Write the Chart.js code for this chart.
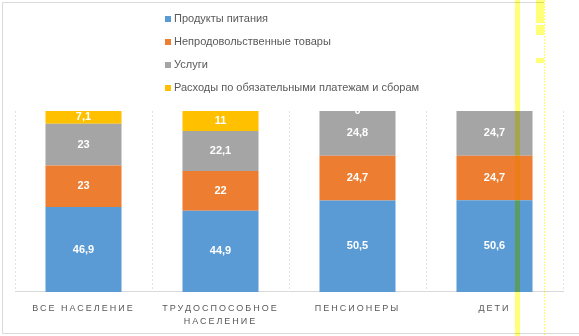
<!DOCTYPE html>
<html>
<head>
<meta charset="utf-8">
<script src="https://cdn.jsdelivr.net/npm/chart.js@4/dist/chart.umd.min.js"></script>
<style>
  html, body { margin: 0; padding: 0; background: #fff; }
  canvas { display: block; }
</style>
</head>
<body>
<canvas id="chart" width="579" height="336"></canvas>
<script>
// ----------------------
// DATA
// ----------------------
const categories = ["ВСЕ НАСЕЛЕНИЕ", ["ТРУДОСПОСОБНОЕ", "НАСЕЛЕНИЕ"], "ПЕНСИОНЕРЫ", "ДЕТИ"];
const seriesNames = [
    "Продукты питания",
    "Непродовольственные товары",
    "Услуги",
    "Расходы по обязательными платежам и сборам"
];
const food = [46.9, 44.9, 50.5, 50.6];
const nonFood = [23, 22, 24.7, 24.7];
const services = [23, 22.1, 24.8, 24.7];
const payments = [7.1, 11, 0, null];
const seriesColors = ["#5B9BD5", "#ED7D31", "#A5A5A5", "#FFC000"];

const FONT = "'Liberation Sans', 'DejaVu Sans', sans-serif";
const TEXT_GRAY = "#595959";

// ----------------------
// PLUGINS
// ----------------------
// frame + letter spacing for category labels
const framePlugin = {
    id: "frame",
    beforeDraw(chart) {
        const ctx = chart.ctx;
        ctx.save();
        ctx.fillStyle = "#fff";
        ctx.fillRect(0, 0, chart.width, chart.height);
        ctx.strokeStyle = "#d9d9d9";
        ctx.lineWidth = 1;
        ctx.beginPath();
        ctx.moveTo(2.5, 333.5);
        ctx.lineTo(2.5, 2.5);
        ctx.lineTo(544, 2.5);
        ctx.moveTo(2.5, 333.5);
        ctx.lineTo(579, 333.5);
        ctx.stroke();
        ctx.restore();
        ctx.letterSpacing = "2px";
    },
    beforeDatasetsDraw(chart) {
        chart.ctx.letterSpacing = "0px";
    }
};

// values inside the segments
const labelsPlugin = {
    id: "segLabels",
    afterDatasetsDraw(chart) {
        const ctx = chart.ctx;
        ctx.save();
        ctx.letterSpacing = "0px";
        ctx.font = "bold 11px " + FONT;
        ctx.fillStyle = "#fff";
        ctx.textAlign = "center";
        ctx.textBaseline = "middle";
        chart.data.datasets.forEach((ds, di) => {
            const meta = chart.getDatasetMeta(di);
            meta.data.forEach((bar, i) => {
                const v = ds.data[i];
                if (v === null || v === undefined) return;
                const y = (bar.y + bar.base) / 2;
                ctx.fillText(String(v).replace(".", ","), bar.x, y);
            });
        });
        ctx.restore();
    }
};

// vertical legend in the top area
const legendPlugin = {
    id: "vLegend",
    afterDraw(chart) {
        const ctx = chart.ctx;
        ctx.save();
        ctx.letterSpacing = "0px";
        ctx.font = "11px " + FONT;
        ctx.textBaseline = "middle";
        ctx.textAlign = "left";
        chart.data.datasets.forEach((ds, i) => {
            const y = 19 + i * 23;
            ctx.fillStyle = ds.backgroundColor;
            ctx.fillRect(165, y - 3, 6, 6);
            ctx.fillStyle = TEXT_GRAY;
            ctx.fillText(ds.label, 174, y);
        });
        ctx.restore();

        // yellow highlight marks seen over the picture
        ctx.save();
        ctx.globalCompositeOperation = "multiply";
        ctx.fillStyle = "rgb(255,255,120)";
        ctx.fillRect(515, 0, 5, chart.height);
        ctx.strokeStyle = "rgb(255,255,90)";
        ctx.setLineDash([2, 1]);
        ctx.beginPath();
        ctx.moveTo(544.5, 0);
        ctx.lineTo(544.5, chart.height);
        ctx.stroke();
        ctx.fillRect(536, 0, 8, 23);
        ctx.fillRect(536, 25, 8, 10);
        ctx.fillRect(536, 58, 8, 5);
        ctx.restore();
    }
};

// ----------------------
// CHART
// ----------------------
const dataArrays = [food, nonFood, services, payments];

new Chart(document.getElementById("chart"), {
    type: "bar",
    data: {
        labels: categories,
        datasets: seriesNames.map((name, i) => ({
            label: name,
            data: dataArrays[i],
            backgroundColor: seriesColors[i],
            borderWidth: 0,
            categoryPercentage: 1,
            barPercentage: 0.555
        }))
    },
    options: {
        responsive: false,
        animation: false,
        layout: { padding: { left: 15, right: 16, top: 111, bottom: -2 } },
        plugins: {
            legend: { display: false },
            tooltip: { enabled: false }
        },
        scales: {
            x: {
                stacked: true,
                grid: {
                    display: true,
                    offset: true,
                    color: "#e3e3e3",
                    drawTicks: false
                },
                border: { display: true, color: "#d9d9d9", dash: [2, 2] },
                ticks: {
                    color: TEXT_GRAY,
                    font: { family: FONT, size: 9, lineHeight: 1.45 },
                    padding: 10,
                    maxRotation: 0,
                    autoSkip: false
                }
            },
            y: {
                stacked: true,
                display: false,
                min: 0,
                max: 100
            }
        }
    },
    plugins: [framePlugin, labelsPlugin, legendPlugin]
});
</script>
</body>
</html>
